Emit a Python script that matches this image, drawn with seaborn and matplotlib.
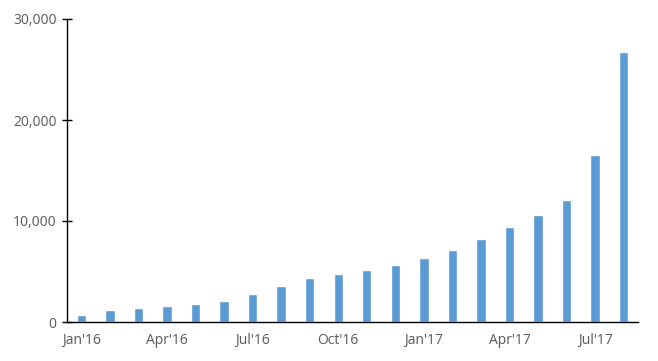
import matplotlib
matplotlib.use("Agg")
import matplotlib.pyplot as plt
import seaborn as sns
import pandas as pd
from matplotlib.ticker import FuncFormatter

months = ["Jan'16", "Feb'16", "Mar'16", "Apr'16", "May'16", "Jun'16", "Jul'16", "Aug'16",
          "Sep'16", "Oct'16", "Nov'16", "Dec'16", "Jan'17", "Feb'17", "Mar'17", "Apr'17",
          "May'17", "Jun'17", "Jul'17", "Aug'17"]
values = [700, 1200, 1400, 1600, 1800, 2100, 2800, 3550, 4350, 4750, 5150, 5650,
          6350, 7130, 8220, 9400, 10600, 12080, 16530, 26730]
shown_ticks = ["Jan'16", "Apr'16", "Jul'16", "Oct'16", "Jan'17", "Apr'17", "Jul'17"]

df = pd.DataFrame({"month": months, "value": values})

sns.set_theme(style="white")
plt.rcParams['font.family'] = ['Open Sans', 'DejaVu Sans']

fig = plt.figure(figsize=(6.58, 3.61), dpi=100)
ax = fig.add_axes([67/658, 1-322/361, (638-67)/658, (322-19)/361])
sns.barplot(data=df, x="month", y="value", color="#5B9BD5", width=0.33,
            saturation=1, ax=ax)
ax.set_xlim(-0.5, len(months)-0.5)
ax.set_ylim(0, 30000)
ax.set_yticks([0, 10000, 20000, 30000])
ax.yaxis.set_major_formatter(FuncFormatter(lambda v, p: f"{int(v):,}"))
idx = [months.index(m) for m in shown_ticks]
ax.set_xticks(idx)
ax.set_xticklabels(shown_ticks)
ax.set_xlabel("")
ax.set_ylabel("")
for s in ["top", "right"]:
    ax.spines[s].set_visible(False)
for s in ["left", "bottom"]:
    ax.spines[s].set_color("black")
    ax.spines[s].set_linewidth(1.0)
ax.tick_params(axis="y", direction="inout", length=7, width=1, color="black",
               labelsize=10, labelcolor="#595959", left=True, pad=4)
ax.tick_params(axis="x", length=0, labelsize=10, labelcolor="#595959", pad=8)
fig.savefig("out.png", dpi=100, facecolor="white")
